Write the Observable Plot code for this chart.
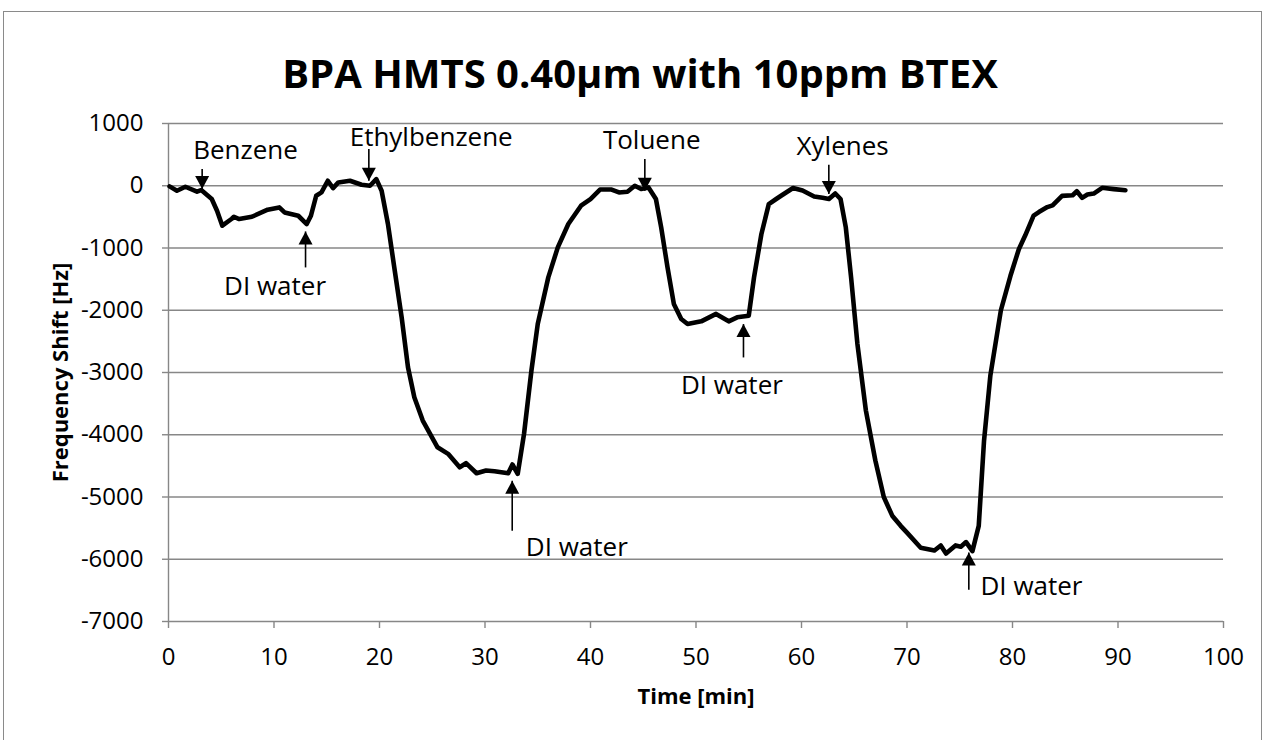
<!DOCTYPE html>
<html>
<head>
<meta charset="utf-8">
<script src="https://cdn.jsdelivr.net/npm/d3@7"></script>
<script src="https://cdn.jsdelivr.net/npm/@observablehq/plot@0.6"></script>
<style>
  html, body { margin: 0; padding: 0; background: #fff; }
  #wrap { position: relative; width: 1264px; height: 740px; overflow: hidden; background: #fff; }
  #frame { position: absolute; left: 3px; top: 11px; width: 1259px; height: 800px; border: 1.5px solid #8a8a8a; box-sizing: border-box; }
  #title { position: absolute; left: 8px; top: 49px; width: 1264px; text-align: center; font-family: "Open Sans", sans-serif; font-weight: 700; font-size: 40px; line-height: 48px; color: #000; }
  #plot { position: absolute; left: 0; top: 0; }
</style>
</head>
<body>
<div id="wrap">
  <div id="frame"></div>
  <div id="title">BPA HMTS 0.40µm with 10ppm BTEX</div>
  <div id="plot"></div>
</div>
<script>
// Time [min]
const time = [
  0.1, 0.8, 1.6, 2.7, 3.1, 4.1, 4.6, 5.1, 6.0, 6.2, 6.7, 7.9, 9.4, 10.5, 11.0, 12.3, 13.1, 13.5, 14.0, 14.5,
  15.1, 15.6, 16.1, 17.2, 18.3, 19.1, 19.7, 20.2, 20.8, 21.4, 22.1, 22.7, 23.3, 24.1, 25.5, 26.5, 27.6, 28.2,
  29.2, 30.1, 30.9, 32.2, 32.6, 33.1, 33.7, 34.4, 35.0, 36.0, 36.9, 37.9, 39.1, 40.0, 40.9, 42.0, 42.7, 43.5,
  44.2, 44.8, 45.5, 46.2, 46.7, 47.3, 47.9, 48.6, 49.2, 50.5, 51.9, 53.1, 53.9, 55.0, 55.5, 56.2, 56.9, 57.6,
  58.1, 59.2, 60.1, 61.2, 62.0, 62.6, 63.2, 63.7, 64.2, 64.7, 65.3, 66.1, 67.0, 67.8, 68.6, 69.4, 70.0, 71.3,
  72.6, 73.2, 73.7, 74.6, 75.1, 75.6, 76.2, 76.8, 77.3, 77.9, 78.9, 79.8, 80.6, 81.2, 82.0, 82.5, 83.3, 83.8,
  84.7, 85.7, 86.1, 86.6, 87.1, 87.7, 88.5, 89.6, 90.7
];
// Frequency Shift [Hz]
const shift = [
  -10, -80, -16, -96, -69, -213, -401, -642, -530, -498, -535, -498, -385, -348, -428, -482, -615, -482, -161, -107,
  80, -37, 53, 80, 16, 0, 107, -80, -615, -1311, -2114, -2917, -3398, -3772, -4201, -4307, -4522, -4457,
  -4618, -4575, -4586, -4618, -4478, -4628, -3986, -2970, -2220, -1472, -990, -615, -321, -213, -61, -61, -108, -96,
  0, -53, -27, -213, -669, -1311, -1899, -2140, -2220, -2178, -2059, -2178, -2114, -2087, -1472, -775, -295, -213,
  -157, -37, -77, -173, -194, -213, -124, -213, -669, -1472, -2541, -3608, -4414, -5000, -5300, -5463, -5572, -5816,
  -5860, -5778, -5908, -5778, -5800, -5724, -5870, -5463, -4100, -3050, -2000, -1450, -1020, -800, -480, -423, -343, -315,
  -163, -153, -88, -195, -141, -125, -33, -54, -71
];

// Tick labels
const xTicks = [0, 10, 20, 30, 40, 50, 60, 70, 80, 90, 100];
const yTicks = [1000, 0, -1000, -2000, -3000, -4000, -5000, -6000, -7000];

// Annotations (data units)
const annoLabel = ["Benzene", "Ethylbenzene", "Toluene", "Xylenes", "DI water", "DI water", "DI water", "DI water"];
const annoTextX = [7.3, 24.9, 45.8, 63.9, 10.1, 38.7, 53.4, 81.8];
const annoTextY = [562, 776, 731, 630, -1619, -5815, -3213, -6434];
const arrowX    = [3.19, 18.99, 45.15, 62.59, 12.99, 32.58, 54.5, 75.86];
const arrowTail = [268, 590, 429, 337, -1312, -5542, -2758, -6488];
const arrowTip  = [-53, 80, -80, -133, -734, -4739, -2222, -5893];
const arrowDir  = ["down", "down", "down", "down", "up", "up", "up", "up"];
</script>
<script>
const n = Math.min(time.length, shift.length);
const series = d3.range(n).map(i => ({t: time[i], f: shift[i]}));
const texts = annoLabel.map((s, i) => ({label: s, x: annoTextX[i], y: annoTextY[i]}));
const arrows = arrowX.map((x, i) => ({x, tail: arrowTail[i], tip: arrowTip[i], dir: arrowDir[i]}));

const headDown = { draw(ctx) { ctx.moveTo(0, 0); ctx.lineTo(-7, -13); ctx.lineTo(7, -13); ctx.closePath(); } };
const headUp   = { draw(ctx) { ctx.moveTo(0, 0); ctx.lineTo(-7, 13); ctx.lineTo(7, 13); ctx.closePath(); } };

const grey = "#878787";
const chart = Plot.plot({
  width: 1264,
  height: 740,
  marginLeft: 168,
  marginRight: 41,
  marginTop: 123,
  marginBottom: 119,
  x: {domain: [0, 100]},
  y: {domain: [-7000, 1000]},
  style: {fontFamily: "'Open Sans', sans-serif", fontSize: "24px", color: "#000", background: "transparent"},
  marks: [
    Plot.gridY({ticks: yTicks, stroke: grey, strokeOpacity: 1, strokeWidth: 1.4}),
    Plot.ruleX([0], {stroke: grey, strokeWidth: 1.4}),
    Plot.axisY({ticks: yTicks, tickSize: 6, tickPadding: 19, tickFormat: d => String(d), stroke: grey, strokeWidth: 1.4, fill: "#000", fontSize: 24, label: null}),
    Plot.axisX({ticks: xTicks, tickSize: 7, tickPadding: 19, tickFormat: d => String(d), stroke: grey, strokeWidth: 1.4, fill: "#000", fontSize: 24, label: null}),
    Plot.line(series, {x: "t", y: "f", stroke: "#000", strokeWidth: 4.6, strokeLinejoin: "round", strokeLinecap: "round"}),
    Plot.link(arrows, {x1: "x", x2: "x", y1: "tail", y2: "tip", stroke: "#000", strokeWidth: 1.6}),
    Plot.dot(arrows.filter(d => d.dir === "down"), {x: "x", y: "tip", symbol: headDown, fill: "#000", stroke: null, r: 6}),
    Plot.dot(arrows.filter(d => d.dir === "up"), {x: "x", y: "tip", symbol: headUp, fill: "#000", stroke: null, r: 6}),
    Plot.text(texts, {x: "x", y: "y", text: "label", fill: "#000", fontSize: 26, textAnchor: "middle", lineAnchor: "middle"}),
    Plot.text(["Frequency Shift [Hz]"], {frameAnchor: "left", dx: -108, rotate: -90, textAnchor: "middle", lineAnchor: "middle", fontWeight: "bold", fontSize: 22, fill: "#000"}),
    Plot.text(["Time [min]"], {frameAnchor: "bottom", dy: 75, textAnchor: "middle", lineAnchor: "middle", fontWeight: "bold", fontSize: 22, fill: "#000"})
  ]
});
document.getElementById("plot").appendChild(chart);
</script>
</body>
</html>
